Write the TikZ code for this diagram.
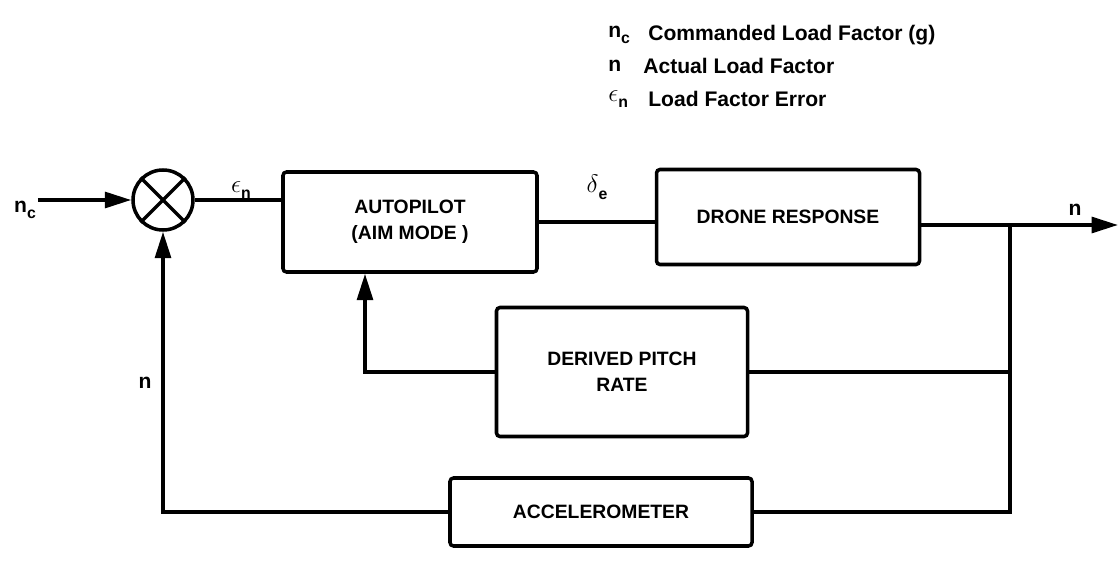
\documentclass[tikz,border=0pt]{standalone}
\usepackage{fontspec}
\setmainfont{Liberation Sans}
\usepackage{tikz}
\usetikzlibrary{arrows.meta, positioning}
\newcommand{\lsub}[1]{\raisebox{-0.5ex}{\small\bfseries #1}}
\tikzstyle{block} = [rectangle, draw=black, line width=2pt, rounded corners=2pt, text centered, align=center, font=\bfseries\fontsize{11}{15}\selectfont]
\tikzstyle{summer} = [circle, draw=black, line width=2pt, minimum size=1.2cm, inner sep=0pt]
\tikzstyle{lbl} = [font=\bfseries\large, inner sep=1pt]
\tikzstyle{legend} = [font=\bfseries\large, anchor=west, inner sep=0pt]
\tikzstyle{line} = [line width=2pt]
\tikzstyle{arrow} = [line width=2pt, -{Triangle[length=15pt, width=9pt]}]

\begin{document}
\begin{tikzpicture}
  \useasboundingbox (0,0) rectangle (22.4,-11.52);
  % Legende
  \node (lnc) [legend] at (12.16,-0.7) {n\lsub{c}};
  \node (lnctxt) [legend] at (12.96,-0.7) {Commanded Load Factor (g)};
  \node (ln) [legend] at (12.16,-1.32) {n};
  \node (lntxt) [legend] at (12.86,-1.32) {Actual Load Factor};
  \node (len) [legend] at (12.16,-1.98) {\Large$\epsilon$\lsub{n}};
  \node (lentxt) [legend] at (12.96,-1.98) {Load Factor Error};
  % Bloecke
  \node (sum) [summer] at (3.26,-4.0) {};
  \draw [line] (sum.north west) -- (sum.south east);
  \draw [line] (sum.north east) -- (sum.south west);
  \node (autopilot) [block, minimum width=5.08cm, minimum height=2cm] at (8.2,-4.44) {AUTOPILOT\\(AIM MODE )};
  \node (drone) [block, minimum width=5.26cm, minimum height=1.9cm] at (15.76,-4.34) {DRONE RESPONSE};
  \node (pitch) [block, minimum width=5.02cm, minimum height=2.58cm] at (12.44,-7.44) {DERIVED PITCH\\RATE};
  \node (accel) [block, minimum width=6.04cm, minimum height=1.36cm] at (12.02,-10.24) {ACCELEROMETER};
  % Ein- und Ausgang
  \node (nc) [lbl] at (0.5,-4.2) {n\lsub{c}};
  \coordinate (jn) at (20.2,-4.5);
  \coordinate (out) at (22.36,-4.5);
  % Beschriftungen
  \node (en) [lbl] at (4.82,-3.8) {\Large$\epsilon$\lsub{n}};
  \node (de) [lbl] at (11.94,-3.75) {\Large$\delta$\lsub{e}};
  \node (nout) [lbl] at (21.5,-4.2) {n};
  \node (nfb) [lbl] at (2.9,-7.66) {n};
  % Pfeile
  \draw [arrow] (sum.west -| nc.east) -- (sum.west);
  \draw [line] (sum.east) -- (autopilot.west |- sum.east);
  \draw [line] (autopilot.east) -- (drone.west |- autopilot.east);
  \draw [line] (drone.east |- jn) -- (jn);
  \draw [arrow] (jn) -- (out);
  \draw [line] (jn) |- (pitch.east);
  \draw [line] (jn) |- (accel.east);
  \draw [arrow] (pitch.west) -| ([xshift=-0.9cm]autopilot.south);
  \draw [arrow] (accel.west) -| (sum.south);
\end{tikzpicture}
\end{document}
